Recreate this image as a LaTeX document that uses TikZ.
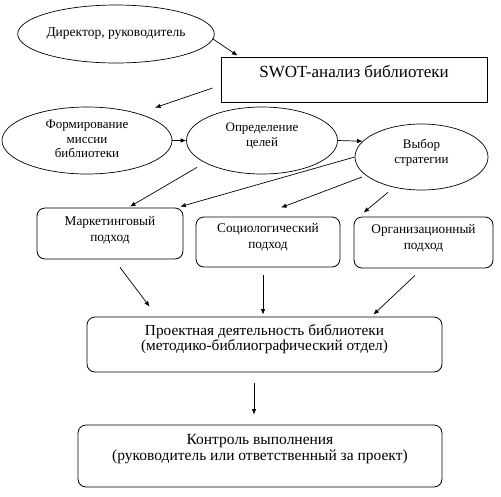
\documentclass[tikz,border=0pt]{standalone}
\usepackage{fontspec}
\setmainfont{Liberation Serif}
\usetikzlibrary{shapes.geometric,arrows.meta}
\newcommand{\uptext}[2]{\raisebox{#1}[\height][\depth]{\begin{tabular}{@{}c@{}}#2\end{tabular}}}
\begin{document}
\begin{tikzpicture}[x=1pt,y=-1pt,
  ell/.style={draw, ellipse, inner sep=0pt, line width=0.7pt},
  sqbox/.style={draw, rectangle, inner sep=0pt, line width=0.8pt},
  rbox/.style={draw, rectangle, rounded corners=8pt, inner sep=0pt, line width=0.8pt},
  arr/.style={-{Latex[length=5.5pt,width=4.5pt]}, line width=0.7pt},
  fs/.style={font=\fontsize{13.3}{16}\selectfont},
  fl/.style={font=\fontsize{15.3}{15}\selectfont}]
\useasboundingbox (0,0) rectangle (501,496);

\node[ell, minimum width=178pt, minimum height=58pt, font=\fontsize{13.5}{15}\selectfont] (dir) at (116,34) {Директор, руководитель};
\node[sqbox, minimum width=266pt, minimum height=45pt, text height=20pt, text depth=25pt, font=\fontsize{17}{19}\selectfont] (swot) at (354,79.5) {SWOT-анализ библиотеки};
\node[ell, minimum width=170pt, minimum height=67pt, font=\fontsize{13}{14.5}\selectfont] (mis) at (87,140.5) {\uptext{0pt}{Формирование\\миссии\\библиотеки}};
\node[ell, minimum width=151pt, minimum height=67pt, font=\fontsize{13}{15}\selectfont] (cel) at (262,140.5) {\uptext{5pt}{Определение\\целей}};
\node[ell, minimum width=133pt, minimum height=66pt, font=\fontsize{13}{15}\selectfont] (str) at (421.5,157) {\uptext{4.5pt}{Выбор\\стратегии}};

\node[rbox, fs, minimum width=146pt, minimum height=51pt] (mkt) at (110,233.5) {\uptext{3.5pt}{Маркетинговый\\подход}};
\node[rbox, fs, minimum width=144pt, minimum height=50pt] (soc) at (268,242) {\uptext{4.5pt}{Социологический\\подход}};
\node[rbox, fs, minimum width=139pt, minimum height=51pt] (org) at (423.5,242.5) {\uptext{4.5pt}{Организационный\\подход}};

\node[rbox, fl, minimum width=355pt, minimum height=55pt] (prj) at (264.5,344.5) {\uptext{5pt}{Проектная деятельность библиотеки\\(методико-библиографический отдел)}};
\node[rbox, font=\fontsize{15.5}{16}\selectfont, minimum width=364pt, minimum height=62pt] (ctl) at (260,456) {\uptext{7pt}{Контроль выполнения\\(руководитель или ответственный за проект)}};

\draw[arr] (dir.-3) -- ([xshift=17pt,yshift=1pt]swot.north west);
\draw[arr] ([xshift=-8pt,yshift=-8.5pt]swot.west) -- ([xshift=68pt,yshift=-1pt]mis.north);
\draw[arr] (mis.east) -- (cel.west);
\draw[arr] (cel.east) -- (str.165);
\draw[arr] ([xshift=-65pt,yshift=7pt]cel.south) -- ([xshift=20pt,yshift=1pt]mkt.north);
\draw[arr] (str.west) -- ([xshift=-3pt,yshift=1pt]mkt.north east);
\draw[arr] ([xshift=-59.5pt,yshift=-20pt]str.center) -- ([xshift=13pt,yshift=9pt]soc.north);
\draw[arr] ([xshift=-33.5pt,yshift=-2pt]str.south) -- ([xshift=10pt,yshift=4pt]org.north west);
\draw[arr] ([xshift=10pt,yshift=-8pt]mkt.south) -- ([xshift=63pt,yshift=10pt]prj.north west);
\draw[arr] ([xshift=-5pt,yshift=-8pt]soc.south) -- ([xshift=-1.5pt,yshift=2pt]prj.north);
\draw[arr] ([xshift=-8.5pt,yshift=-7pt]org.south) -- ([xshift=-69pt,yshift=2pt]prj.north east);
\draw[arr] ([xshift=-10.5pt,yshift=-11pt]prj.south) -- ([xshift=-6pt,yshift=10pt]ctl.north);
\end{tikzpicture}
\end{document}
